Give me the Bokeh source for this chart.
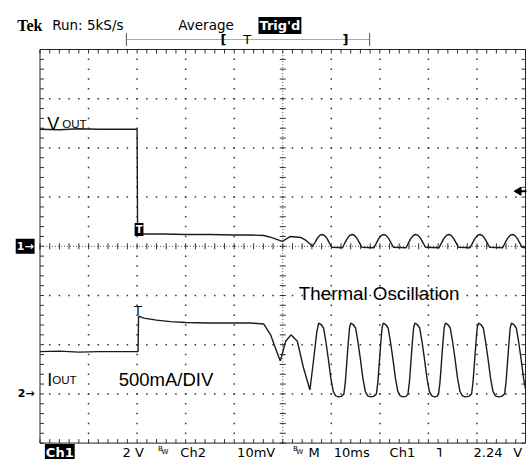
import numpy as np
from bokeh.plotting import figure
from bokeh.models import Label, Range1d
from bokeh.embed import file_html
from bokeh.resources import INLINE

# ---------------- data (time in ms, amplitude in screen divisions) ----------------
vout_t = [0, 4, 8, 12, 16, 20.0, 20.1, 20.4, 25.4, 30, 35, 40, 43.4, 46.1, 47.6, 49.9, 51.6, 53.7, 54.8, 56.1,
          56.6, 57.1, 57.6, 58.1, 58.6, 59.1, 59.6, 60.1, 62.3,
          62.8, 63.3, 63.8, 64.3, 64.8, 65.3, 65.8, 66.3, 68.8,
          69.3, 69.8, 70.3, 70.8, 71.3, 71.8, 72.3, 72.8, 75.4,
          75.9, 76.4, 76.9, 77.4, 77.9, 78.4, 78.9, 79.4, 82.2,
          82.7, 83.2, 83.7, 84.2, 84.7, 85.2, 85.7, 86.2, 88.6,
          89.1, 89.6, 90.1, 90.6, 91.1, 91.6, 92.1, 92.6, 95.3,
          95.8, 96.3, 96.8, 97.3, 97.8, 98.3, 98.8, 99.3, 100]
vout_y = [2.38, 2.37, 2.39, 2.38, 2.38, 2.38, 0.26, 0.25, 0.25, 0.24, 0.24, 0.23, 0.23, 0.22, 0.18, 0.10, 0.20, 0.18, 0.12, 0.0,
          0.07, 0.16, 0.22, 0.24, 0.22, 0.16, 0.07, -0.02, -0.03,
          0.07, 0.16, 0.22, 0.24, 0.22, 0.16, 0.07, -0.02, -0.03,
          0.07, 0.16, 0.22, 0.24, 0.22, 0.16, 0.07, -0.02, -0.03,
          0.07, 0.16, 0.22, 0.24, 0.22, 0.16, 0.07, -0.02, -0.03,
          0.07, 0.16, 0.22, 0.24, 0.22, 0.16, 0.07, -0.02, -0.03,
          0.07, 0.16, 0.22, 0.24, 0.22, 0.16, 0.07, -0.02, -0.03,
          0.07, 0.16, 0.22, 0.24, 0.22, 0.16, 0.07, -0.02, -0.03]

iout_t = [0, 4, 8, 12, 16, 20.2, 20.3, 21.4, 24, 26.9, 30, 35, 40, 43.4, 46.1, 47.5, 48.5, 49.5, 50.6, 51.7, 53.0,
          54.3, 55.6, 56.4, 57.0,
          57.4, 57.9, 58.4, 58.9, 59.4, 59.9, 60.4, 60.9, 61.5, 62.1, 62.6, 62.9, 63.2, 63.5, 63.75,
          64.0, 64.5, 65.0, 65.5, 66.0, 66.5, 67.0, 67.5, 68.1, 68.7, 69.3, 69.6, 69.9, 70.2, 70.45,
          70.7, 71.2, 71.7, 72.2, 72.7, 73.2, 73.7, 74.2, 74.8, 75.4, 75.8, 76.1, 76.4, 76.7, 76.95,
          77.2, 77.7, 78.2, 78.7, 79.2, 79.7, 80.2, 80.7, 81.3, 81.8, 82.1, 82.4, 82.7, 83.0, 83.25,
          83.5, 84.0, 84.5, 85.0, 85.5, 86.0, 86.5, 87.0, 87.6, 88.3, 88.9, 89.2, 89.5, 89.8, 90.05,
          90.3, 90.8, 91.3, 91.8, 92.3, 92.8, 93.3, 93.8, 94.4, 95.1, 95.7, 96.0, 96.3, 96.6, 96.85,
          97.1, 97.6, 98.1, 98.6, 99.1, 99.6, 100]
iout_y = [-2.14, -2.13, -2.15, -2.14, -2.14, -2.14, -1.42, -1.46, -1.50, -1.53, -1.55, -1.56, -1.56, -1.56, -1.58, -1.80,
          -2.07, -2.33, -1.93, -1.80, -1.93, -2.48, -2.92, -2.27, -1.75,
          -1.56, -1.59, -1.66, -1.95, -2.30, -2.68, -2.95, -3.04, -3.06, -3.05, -3.00, -2.75, -2.35, -1.95, -1.66,
          -1.56, -1.59, -1.66, -1.95, -2.30, -2.68, -2.95, -3.04, -3.06, -3.05, -3.00, -2.75, -2.35, -1.95, -1.66,
          -1.56, -1.59, -1.66, -1.95, -2.30, -2.68, -2.95, -3.04, -3.06, -3.05, -3.00, -2.75, -2.35, -1.95, -1.66,
          -1.56, -1.59, -1.66, -1.95, -2.30, -2.68, -2.95, -3.04, -3.06, -3.05, -3.00, -2.75, -2.35, -1.95, -1.66,
          -1.56, -1.59, -1.66, -1.95, -2.30, -2.68, -2.95, -3.04, -3.06, -3.05, -3.00, -2.75, -2.35, -1.95, -1.66,
          -1.56, -1.59, -1.66, -1.95, -2.30, -2.68, -2.95, -3.04, -3.06, -3.05, -3.00, -2.75, -2.35, -1.95, -1.66,
          -1.56, -1.59, -1.66, -1.95, -2.30, -2.68, -2.90]

# scope settings / readouts
header_texts = ["Run: 5kS/s", "Average", "Trig'd"]
footer_texts = ["Ch1", "2 V", "Ch2", "10mV", "M", "10ms", "Ch1", "2.24", "V"]
TRIG_T = 20.2          # trigger time (ms)
TRIG_LEVEL = 1.12      # trigger level marker (div)
CH2_GND = -3.0         # channel 2 ground marker (div)

# ---------------- graticule: 10 x 10 ms, 8 divisions ----------------
T_MAX, Y_MAX = 100, 4
major_t = np.arange(10, 100, 10)
major_y = np.arange(-3, 4, 1)
minor_t = np.arange(0, 100.001, 2)
minor_y = np.round(np.arange(-4, 4.001, 0.2), 2)

# the frame covers the whole canvas; graticule spans x 39.5..525, y 49..442.6
W, H = 531, 459
G_LEFT, G_RIGHT, G_TOP, G_BOTTOM = 39.5, 525, 49, 442.6
PX_PER_MS = (G_RIGHT - G_LEFT) / T_MAX
PX_PER_DIV = (G_BOTTOM - G_TOP) / (2 * Y_MAX)
x_lo = -G_LEFT / PX_PER_MS
x_hi = T_MAX + (W - G_RIGHT) / PX_PER_MS
y_hi = Y_MAX + G_TOP / PX_PER_DIV
y_lo = -Y_MAX - (H - G_BOTTOM) / PX_PER_DIV

p = figure(width=W, height=H, x_range=Range1d(x_lo, x_hi), y_range=Range1d(y_lo, y_hi),
           output_backend="svg", toolbar_location=None,
           x_axis_location=None, y_axis_location=None,
           min_border_left=0, min_border_right=0, min_border_top=0, min_border_bottom=0)
p.grid.visible = False
p.outline_line_color = None
p.background_fill_color = "white"
p.border_fill_color = "white"

DOT = "#333333"
# dotted division lines
vx, vy = [], []
for t in major_t:
    if t == 50:
        continue
    for y in minor_y[1:-1]:
        vx.append(t); vy.append(y)
for y in major_y:
    if y == 0:
        continue
    for t in minor_t[1:-1]:
        vx.append(t); vy.append(y)
p.scatter(vx, vy, marker="square", size=1.5, fill_color=DOT, line_color=None)

# center cross (dense dots with small tick marks)
p.segment([50], [-Y_MAX], [50], [Y_MAX], line_color="#555555", line_dash="1 2", line_width=1)
p.segment([0], [0], [T_MAX], [0], line_color="#555555", line_dash="1 2", line_width=1)
p.scatter([50] * len(minor_y), minor_y, marker="dash", size=6, line_color="#333333", line_width=1)
p.scatter(minor_t, [0] * len(minor_t), marker="dash", size=6, angle=np.pi / 2, line_color="#333333", line_width=1)

# frame edge ticks pointing inward
tk_t = 4 / PX_PER_MS
tk_y = 4 / PX_PER_DIV
p.segment(minor_t, [Y_MAX] * len(minor_t), minor_t, [Y_MAX - tk_y] * len(minor_t), line_color="#333333")
p.segment(minor_t, [-Y_MAX] * len(minor_t), minor_t, [-Y_MAX + tk_y] * len(minor_t), line_color="#333333")
p.segment([0] * len(minor_y), minor_y, [tk_t] * len(minor_y), minor_y, line_color="#333333")
p.segment([T_MAX] * len(minor_y), minor_y, [T_MAX - tk_t] * len(minor_y), minor_y, line_color="#333333")

# graticule border
p.quad(left=[0], right=[T_MAX], bottom=[-Y_MAX], top=[Y_MAX], fill_color=None, line_color="#222222", line_width=1)

# ---------------- traces ----------------
p.line(vout_t, vout_y, line_color="#1c1c1c", line_width=1.4)
p.line(iout_t, iout_y, line_color="#1c1c1c", line_width=1.4)

# trigger level marker
p.scatter([98.6], [TRIG_LEVEL], marker="triangle", size=8, angle=np.pi / 2, fill_color="black", line_color="black")
p.segment([98.6], [TRIG_LEVEL], [T_MAX + 0.2], [TRIG_LEVEL], line_color="black", line_width=2)


def lab(x, y, text, size, font="DejaVu Sans", color="black", style="normal", bg=None,
        align="left", baseline="alphabetic", pad=0):
    kw = dict(x=x, y=y, text=text, text_font=font, text_font_size=size, text_color=color,
              text_font_style=style, text_align=align, text_baseline=baseline)
    if bg is not None:
        kw.update(background_fill_color=bg, padding=pad)
    p.add_layout(Label(**kw))


# trace annotations
lab(1.48, 2.49, "V", "18px", font="Liberation Sans")
lab(4.57, 2.49, "OUT", "11.5px", font="Liberation Sans")
lab(1.48, -2.71, "I", "18px", font="Liberation Sans")
lab(2.51, -2.71, "OUT", "11.5px", font="Liberation Sans")
lab(16.2, -2.71, "500mA/DIV", "18.5px", font="Liberation Sans")
lab(53.3, -0.96, "Thermal Oscillation", "18.8px", font="Liberation Sans")

# trigger markers on traces
lab(TRIG_T + 0.2, 0.34, "T", "10px", color="white", style="bold", bg="black", align="center", baseline="middle", pad=1)
lab(TRIG_T, -1.30, "T", "13px", align="center", baseline="middle")

# channel ground markers
lab(-5.0, 0.0, "1→", "11px", color="white", style="bold", bg="black", baseline="middle", pad=1)
lab(-4.6, CH2_GND, "2→", "11px", style="bold", baseline="middle")

# header
HY = 4.49
lab(-4.70, HY, "Tek", "16px", font="Liberation Serif", style="bold")
lab(2.51, HY, header_texts[0], "13.5px")
lab(28.5, HY, header_texts[1], "13.5px")
lab(45.0, HY, header_texts[2], "13px", color="white", style="bold", bg="black", pad=1)
BY = 4.203
p.segment([17.8], [BY], [67.9], [BY], line_color="#555555", line_dash="1 1", line_width=1)
p.segment([17.8, 67.9], [4.07, 4.07], [17.8, 67.9], [4.335, 4.335], line_color="#555555", line_width=1)
lab(37.8, BY, "[", "13px", style="bold", align="center", baseline="middle")
lab(42.7, BY, "T", "13px", align="center", baseline="middle")
lab(62.9, BY, "]", "13px", style="bold", align="center", baseline="middle")

# footer
FY = -4.19
lab(1.0, FY, footer_texts[0], "13px", color="white", style="bold", bg="black", pad=1)
lab(17.0, FY, footer_texts[1], "13px")
lab(24.3, FY + 0.06, "B", "7px")
lab(25.0, FY, "W", "7px")
lab(28.9, FY, footer_texts[2], "13px")
lab(40.6, FY, footer_texts[3], "13px")
lab(52.1, FY + 0.06, "B", "7px")
lab(52.8, FY, "W", "7px")
lab(55.3, FY, footer_texts[4], "13px")
lab(60.5, FY, footer_texts[5], "13px")
lab(72.0, FY, footer_texts[6], "13px")
lab(81.5, FY, "˥", "13px", style="bold")
lab(89.3, FY, footer_texts[7], "13px")
lab(97.5, FY, footer_texts[8], "13px")

open("out.html", "w").write(file_html(p, INLINE))
